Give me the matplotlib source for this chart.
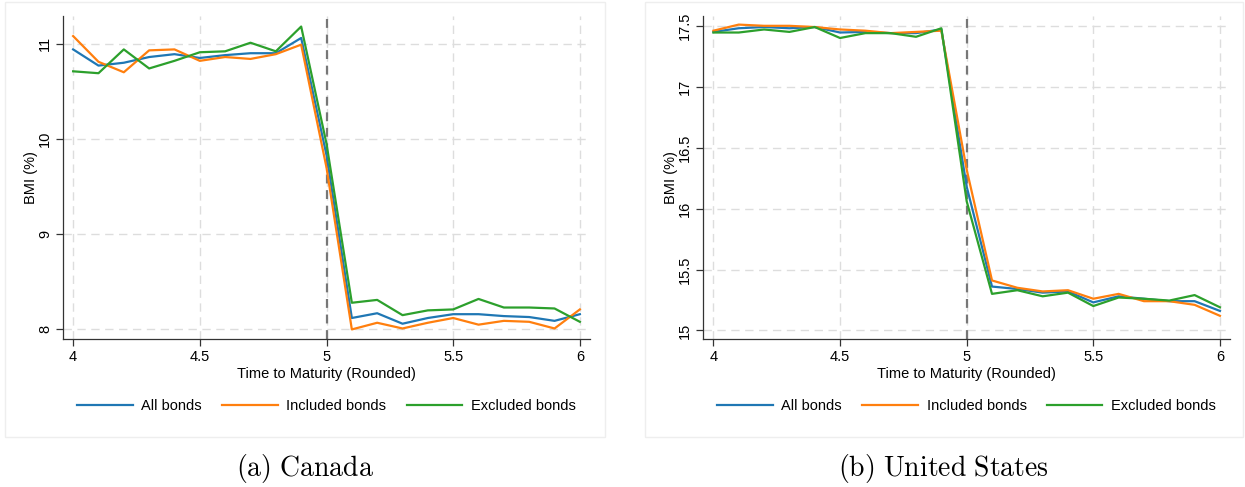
import matplotlib
matplotlib.use("Agg")
import matplotlib.pyplot as plt
from matplotlib.patches import Rectangle

plt.rcParams['font.family'] = ['Liberation Sans', 'DejaVu Sans']
plt.rcParams['mathtext.fontset'] = 'cm'

maturity = [4.0, 4.1, 4.2, 4.3, 4.4, 4.5, 4.6, 4.7, 4.8, 4.9, 5.0,
            5.1, 5.2, 5.3, 5.4, 5.5, 5.6, 5.7, 5.8, 5.9, 6.0]

# Canada
ca_all = [10.94, 10.77, 10.80, 10.86, 10.89, 10.85, 10.88, 10.90, 10.90, 11.06, 9.83,
          8.12, 8.17, 8.06, 8.12, 8.16, 8.16, 8.14, 8.13, 8.09, 8.16]
ca_incl = [11.08, 10.81, 10.70, 10.93, 10.94, 10.82, 10.86, 10.84, 10.89, 10.99, 9.70,
           8.00, 8.07, 8.01, 8.07, 8.12, 8.05, 8.09, 8.08, 8.01, 8.21]
ca_excl = [10.71, 10.69, 10.94, 10.74, 10.82, 10.91, 10.92, 11.01, 10.92, 11.18, 9.95,
           8.28, 8.31, 8.15, 8.20, 8.21, 8.32, 8.23, 8.23, 8.22, 8.08]

# United States
us_all = [17.45, 17.48, 17.49, 17.48, 17.49, 17.445, 17.45, 17.44, 17.44, 17.47, 16.18,
          15.36, 15.34, 15.31, 15.32, 15.23, 15.28, 15.26, 15.24, 15.24, 15.16]
us_incl = [17.46, 17.51, 17.50, 17.50, 17.49, 17.47, 17.46, 17.44, 17.45, 17.46, 16.32,
           15.41, 15.35, 15.32, 15.33, 15.26, 15.30, 15.24, 15.24, 15.21, 15.12]
us_excl = [17.445, 17.445, 17.47, 17.45, 17.49, 17.40, 17.44, 17.44, 17.41, 17.48, 16.06,
           15.30, 15.33, 15.28, 15.31, 15.20, 15.27, 15.26, 15.245, 15.29, 15.19]

series_names = ['All bonds', 'Included bonds', 'Excluded bonds']
series_colors = ['#1f77b4', '#ff7f0e', '#2ca02c']
x_ticks = [4, 4.5, 5, 5.5, 6]
ca_yticks = [8, 9, 10, 11]
us_yticks = [15, 15.5, 16, 16.5, 17, 17.5]


def fmt(v):
    return '%g' % v


def draw_panel(fig, rect, box, data, yticks, ylim, caption):
    # light frame around the graph region
    fig.patches.append(Rectangle((box[0], box[1]), box[2], box[3], transform=fig.transFigure,
                                 fill=False, edgecolor='#eeeeee', linewidth=1.0))
    ax = fig.add_axes(rect)
    for vals, name, col in zip(data, series_names, series_colors):
        ax.plot(maturity, vals, color=col, linewidth=1.6, label=name, zorder=3)
    ax.axvline(5, color='#777777', linestyle=(0, (4, 3)), linewidth=1.6, zorder=2)
    ax.set_xlim(3.96, 6.04)
    ax.set_ylim(*ylim)
    ax.set_xticks(x_ticks)
    ax.set_xticklabels([fmt(v) for v in x_ticks])
    ax.set_yticks(yticks)
    ax.set_yticklabels([fmt(v) for v in yticks], rotation=90, va='center')
    ax.grid(True, color='#dddddd', linestyle=(0, (6, 4)), linewidth=1.0, zorder=0)
    for s in ['top', 'right']:
        ax.spines[s].set_visible(False)
    for s in ['left', 'bottom']:
        ax.spines[s].set_color('#333333')
        ax.spines[s].set_linewidth(0.9)
    ax.tick_params(direction='out', length=5, width=0.9, color='#333333', labelsize=10.5, pad=3)
    ax.set_xlabel('Time to Maturity (Rounded)', fontsize=10.5, labelpad=2)
    ax.set_ylabel('BMI (%)', fontsize=10.5, labelpad=0)
    ax.legend(loc='upper center', bbox_to_anchor=(0.5, -0.145), ncol=3, frameon=False,
              fontsize=10.5, handlelength=3.8, columnspacing=1.4, handletextpad=0.6)
    fig.text(box[0] + box[2] / 2, 0.039, caption, ha='center', va='center', fontsize=20)
    return ax


fig = plt.figure(figsize=(12.45, 4.87), dpi=100)
draw_panel(fig, [0.0506, 0.304, 0.4233, 0.663], (0.004, 0.103, 0.482, 0.893),
           [ca_all, ca_incl, ca_excl], ca_yticks, (7.90, 11.29), r'$\mathrm{(a)\ Canada}$')
draw_panel(fig, [0.5649, 0.304, 0.4231, 0.663], (0.518, 0.103, 0.480, 0.893),
           [us_all, us_incl, us_excl], us_yticks, (14.93, 17.58), r'$\mathrm{(b)\ United\ States}$')
fig.savefig('out.png', dpi=100)
